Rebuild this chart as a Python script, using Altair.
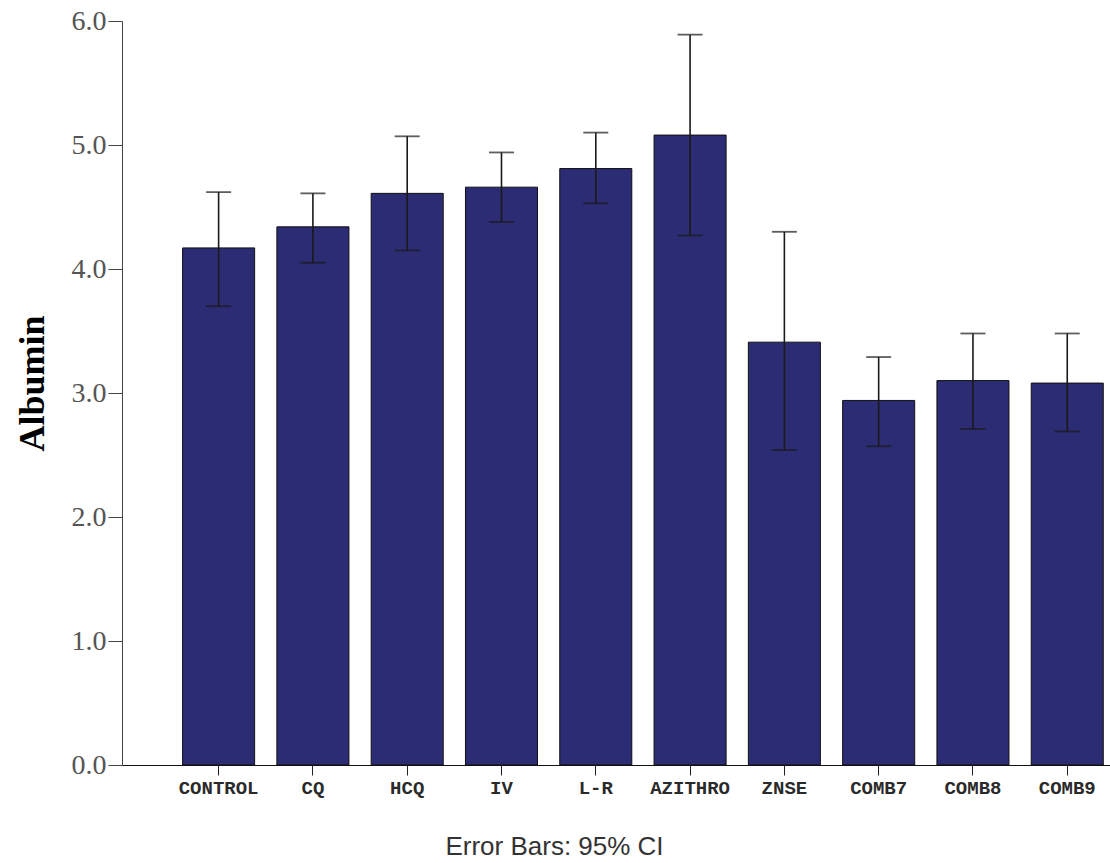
import altair as alt
import pandas as pd

categories = ["CONTROL", "CQ", "HCQ", "IV", "L-R", "AZITHRO", "ZNSE", "COMB7", "COMB8", "COMB9"]
means = [4.17, 4.34, 4.61, 4.66, 4.81, 5.08, 3.41, 2.94, 3.10, 3.08]
ci_low = [3.70, 4.05, 4.15, 4.38, 4.53, 4.27, 2.54, 2.57, 2.71, 2.69]
ci_high = [4.62, 4.61, 5.07, 4.94, 5.10, 5.89, 4.30, 3.29, 3.48, 3.48]
y_ticks = [0, 1, 2, 3, 4, 5, 6]

df = pd.DataFrame({"group": categories, "mean": means, "low": ci_low, "high": ci_high})

xscale = alt.Scale(domain=categories, paddingInner=0.236, paddingOuter=0.357, align=0.9)
yscale = alt.Scale(domain=[0, 6], nice=False, zero=True)

x_axis = alt.Axis(
    labelAngle=0, tickSize=10, labelPadding=3, tickColor="#222", domainColor="#111",
    labelFont="Liberation Mono", labelFontSize=19, labelFontWeight="bold", labelColor="#2a2a2a",
    title="Error Bars: 95% CI", titleFont="Liberation Sans", titleFontSize=26,
    titleFontWeight="normal", titleColor="#333", titleX=432, titleY=89,
    titleBaseline="alphabetic",
)
y_axis = alt.Axis(
    values=y_ticks, format=".1f", tickSize=14, labelPadding=2, grid=False,
    tickColor="#444", domainColor="#444",
    labelFont="Liberation Serif", labelFontSize=28, labelColor="#555",
    title="Albumin", titleFont="Liberation Serif", titleFontSize=36,
    titleFontWeight="bold", titleColor="#000", titleX=-79, titleY=362,
    titleBaseline="alphabetic",
)

base = alt.Chart(df)

bars = base.mark_bar(color="#2B2C73", stroke="#111", strokeWidth=1).encode(
    x=alt.X("group:N", scale=xscale, axis=x_axis, sort=categories),
    y=alt.Y("mean:Q", scale=yscale, axis=y_axis),
)

rules = base.mark_rule(color="#1a1a1a", strokeWidth=1.6).encode(
    x=alt.X("group:N", scale=xscale, sort=categories),
    y=alt.Y("low:Q", scale=yscale),
    y2="high:Q",
)

ticks_hi = base.mark_tick(color="#1a1a1a", size=25, thickness=1.8).encode(
    x=alt.X("group:N", scale=xscale, sort=categories),
    y=alt.Y("high:Q", scale=yscale),
)
ticks_lo = base.mark_tick(color="#1a1a1a", size=25, thickness=1.8).encode(
    x=alt.X("group:N", scale=xscale, sort=categories),
    y=alt.Y("low:Q", scale=yscale),
)

chart = alt.layer(bars, rules, ticks_hi, ticks_lo).properties(
    width=988, height=744,
    autosize=alt.AutoSizeParams(type="none"),
    padding={"left": 122, "top": 21, "right": 0, "bottom": 98},
    background="white",
).configure_view(stroke=None)

chart.save("out.html", embed_options={"renderer": "svg", "actions": False})
